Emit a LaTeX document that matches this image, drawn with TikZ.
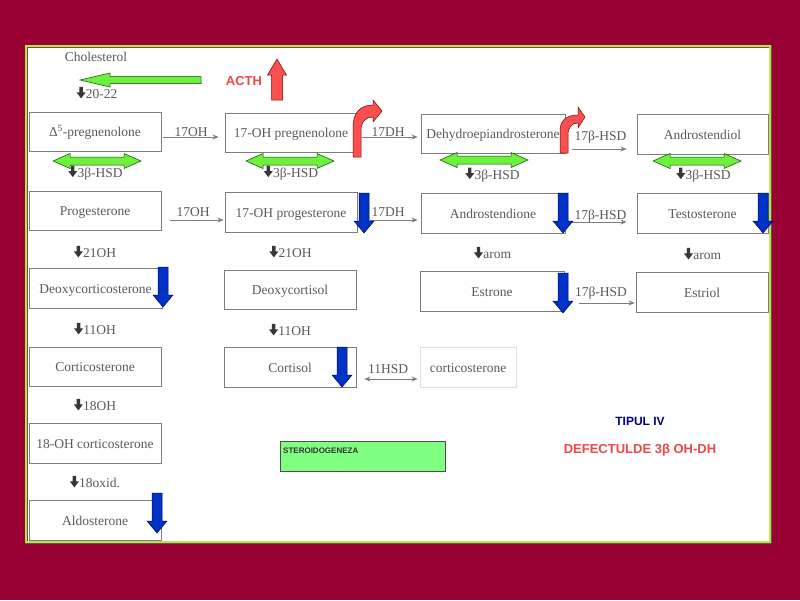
\documentclass[tikz,border=0pt]{standalone}
\usepackage{fontspec}
\setmainfont{Liberation Serif}
\setsansfont{Liberation Sans}
\usetikzlibrary{arrows.meta}
\definecolor{bgred}{RGB}{153,0,51}
\definecolor{txtgray}{RGB}{90,90,90}
\definecolor{boxgray}{RGB}{125,125,125}
\definecolor{dngray}{RGB}{55,55,55}
\definecolor{arrgreen}{RGB}{110,240,60}
\definecolor{arrblue}{RGB}{0,50,200}
\definecolor{arrred}{RGB}{250,80,80}
\definecolor{acthred}{RGB}{240,70,70}
\definecolor{tipnavy}{RGB}{0,0,128}
\definecolor{boxgreen}{RGB}{128,255,128}
\definecolor{panelline}{RGB}{195,220,95}
\definecolor{paneldark}{RGB}{85,100,30}
\newcommand\dnarr{\tikz[baseline=-1pt,x=1pt,y=1pt]\fill[dngray] (-1.7,11) -- (1.7,11) -- (1.7,5.5) -- (4.5,5.5) -- (0,-0.5) -- (-4.5,5.5) -- (-1.7,5.5) -- cycle;\kern0.3pt}
\begin{document}
\begin{tikzpicture}[x=1pt,y=-1pt,
  stage/.style={draw=boxgray, line width=0.9pt, text=txtgray, inner sep=0pt,
    minimum width=132pt, minimum height=39pt, text height=10pt, text depth=0pt,
    font=\fontsize{13.5}{15}\selectfont},
  enz/.style={text=txtgray, inner sep=0pt, font=\fontsize{13.5}{15}\selectfont},
  conn/.style={draw=boxgray, line width=0.8pt, -{Stealth[length=6pt,width=5pt]}},
  dconn/.style={draw=boxgray, line width=0.8pt, {Stealth[length=6pt,width=5pt]}-{Stealth[length=6pt,width=5pt]}},
  greenfill/.style={fill=arrgreen, draw=black!70!green, line width=0.5pt},
  bluefill/.style={fill=arrblue, draw=blue!40!black, line width=0.5pt},
  redfill/.style={fill=arrred, draw=red!50!black, line width=0.5pt},
  greendbl/.pic={\path[greenfill] (-44,0) -- (-27,-7.5) -- (-27,-4) -- (27,-4) -- (27,-7.5) -- (44,0) -- (27,7.5) -- (27,4) -- (-27,4) -- (-27,7.5) -- cycle;},
  bluedown/.pic={\path[bluefill] (-5,0) -- (5,0) -- (5,28) -- (10,28) -- (0,40) -- (-10,28) -- (-5,28) -- cycle;},
  sanslab/.style={inner sep=0pt, font=\sffamily\bfseries\fontsize{13}{15}\selectfont}
]
\useasboundingbox (0,0) rectangle (800,600);
\fill[bgred] (0,0) rectangle (800,600);
% panel
\fill[white] (26,46) rectangle (770,542);
\draw[paneldark, line width=3pt] (26,46) rectangle (770,542);
\draw[panelline, line width=1.6pt] (26,46) rectangle (770,542);

% stage boxes
\node[stage] (preg) at (95,131.5) {Δ\textsuperscript{5}-pregnenolone};
\node[stage] (ohpreg) at (291,132.5) {17-OH pregnenolone};
\node[stage, minimum width=144pt] (dhea) at (493,133.5) {Dehydroepiandrosterone};
\node[stage, minimum width=131pt, minimum height=40pt] (adiol) at (702.5,134) {Androstendiol};

\node[stage] (prog) at (95,210.5) {Progesterone};
\node[stage, minimum height=40pt] (ohprog) at (291,212) {17-OH progesterone};
\node[stage, minimum width=144pt, minimum height=40pt] (adione) at (493,213) {Androstendione};
\node[stage, minimum width=131pt, minimum height=40pt] (testo) at (702.5,213) {Testosterone};

\node[stage, minimum width=133pt, minimum height=40pt] (doc) at (95.5,288) {Deoxycorticosterone};
\node[stage] (dcortisol) at (290,289.5) {Deoxycortisol};
\node[stage, minimum width=144pt, minimum height=40pt] (estrone) at (492,291) {Estrone};
\node[stage, minimum height=40pt] (estriol) at (702,292) {Estriol};

\node[stage] (corticost) at (95,366.5) {Corticosterone};
\node[stage, minimum height=40pt] (cortisol) at (290,367) {Cortisol};
\node[stage, draw=black!12, minimum width=96pt, minimum height=40pt] (cortone) at (468,367) {corticosterone};

\node[stage, minimum height=40pt] (oh18) at (95,443) {18-OH corticosterone};
\node[stage, minimum height=40pt] (aldo) at (95,520) {Aldosterone};

% vertical enzyme labels
\node[enz] (chol) at (96,57) {Cholesterol};
\node[enz] (c2022) at (97,93) {\dnarr 20-22};
\node[enz] (hsda) at (95.5,173) {\dnarr 3β-HSD};
\node[enz] (hsdb) at (291,173) {\dnarr 3β-HSD};
\node[enz] (hsdc) at (492.5,175) {\dnarr 3β-HSD};
\node[enz] (hsdd) at (703.5,175) {\dnarr 3β-HSD};
\node[enz] (ohA) at (95,252) {\dnarr 21OH};
\node[enz] (ohB) at (290.5,252) {\dnarr 21OH};
\node[enz] (aromA) at (492.5,253) {\dnarr arom};
\node[enz] (aromB) at (702.5,254) {\dnarr arom};
\node[enz] (elA) at (95,329) {\dnarr 11OH};
\node[enz] (elB) at (290,330) {\dnarr 11OH};
\node[enz] (eiA) at (95,405) {\dnarr 18OH};
\node[enz] (eiB) at (95,482) {\dnarr 18oxid.};

% horizontal connectors
\draw[conn] ([shift={(2,5.5)}]preg.east) -- node[enz, yshift=5pt] (e1) {17OH} ([shift={(-6,4.5)}]ohpreg.west);
\draw[conn] ([shift={(5,4.5)}]ohpreg.east) -- node[enz, xshift=-2pt, yshift=5pt] (e2) {17DH} ([shift={(-3,3.5)}]dhea.west);
\draw[conn] ([shift={(7,15.5)}]dhea.east) -- node[enz, xshift=1pt, yshift=12pt] (e3) {17β-HSD} ([shift={(-10,15)}]adiol.west);
\draw[conn] ([shift={(9,9.5)}]prog.east) -- node[enz, xshift=-4pt, yshift=8pt] (e4) {17OH} ([shift={(-1,8)}]ohprog.west);
\draw[conn] ([shift={(13,8)}]ohprog.east) -- node[enz, xshift=-6pt, yshift=8pt] (e5) {17DH} ([shift={(-3,7)}]adione.west);
\draw[conn] ([shift={(7,9)}]adione.east) -- node[enz, xshift=1pt, yshift=6pt] (e6) {17β-HSD} ([shift={(-10,9)}]testo.west);
\draw[conn] ([shift={(15,12)}]estrone.east) -- node[enz, xshift=-6pt, yshift=10pt] (e7) {17β-HSD} ([shift={(-1,11)}]estriol.west);
\draw[dconn] ([shift={(8,12)}]cortisol.east) -- node[enz, xshift=-3pt, yshift=10pt] (e8) {11HSD} ([shift={(-2,12)}]cortone.west);

% green arrows
\path[greenfill] (80,80) -- (110,73) -- (110,76.5) -- (201,76.5) -- (201,83.5) -- (110,83.5) -- (110,87) -- cycle;
\pic at (97,161) {greendbl};
\pic at (290,161) {greendbl};
\pic at (484,160) {greendbl};
\pic at (697,161) {greendbl};

% red arrows
\path[redfill] (277,59) -- (286.5,75) -- (282.5,75) -- (282.5,100) -- (271.5,100) -- (271.5,75) -- (267.5,75) -- cycle;
\begin{scope}[shift={(353,157)}]
\path[redfill] (0,0) -- (0,-30) .. controls (0,-45) and (8,-52) .. (20,-52) -- (20,-57) -- (29,-46) -- (20,-35) -- (20,-40) .. controls (13,-40) and (8,-36) .. (8,-26) -- (8,0) -- cycle;
\end{scope}
\begin{scope}[shift={(560,153)}]
\path[redfill] (0,0) -- (0,-22) .. controls (0,-33) and (7,-38) .. (18,-38) -- (18,-46) -- (25,-36) -- (18,-25) -- (18,-30) .. controls (12,-30) and (8,-26) .. (8,-18) -- (8,0) -- cycle;
\end{scope}

% blue arrows
\pic at (364,193) {bluedown};
\pic at (563,193) {bluedown};
\pic at (763,193) {bluedown};
\pic at (163,267) {bluedown};
\pic at (563,273) {bluedown};
\pic at (342,347) {bluedown};
\pic at (157,493) {bluedown};

% texts
\node[sanslab, text=acthred] (acth) at (244,81) {ACTH};
\node[sanslab, text=tipnavy, font=\sffamily\bfseries\fontsize{12}{14}\selectfont] (tipul) at (640,421) {TIPUL IV};
\node[sanslab, text=acthred] (defect) at (640,450) {DEFECTULDE 3β OH-DH};
\node[draw=black!70, line width=0.8pt, fill=boxgreen, minimum width=165pt, minimum height=30pt, inner sep=0pt, anchor=north west] (stbox) at (280,441) {};
\node[inner sep=0pt, anchor=west, text=black!80, font=\sffamily\bfseries\fontsize{8}{9}\selectfont] (sttext) at (283,451) {STEROIDOGENEZA};
\end{tikzpicture}
\end{document}
